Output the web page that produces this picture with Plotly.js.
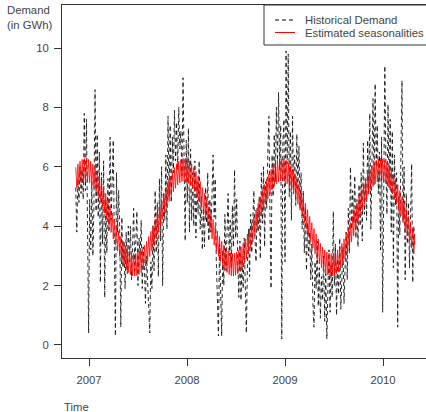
<!DOCTYPE html>
<html>
<head>
<meta charset="utf-8">
<script src="https://cdn.plot.ly/plotly-3.0.1.min.js"></script>
<style>
  html, body { margin: 0; padding: 0; overflow: hidden; background: #fff; }
  #chart { width: 430px; height: 412px; }
</style>
</head>
<body>
<div id="chart"></div>
<script>
// Time index: regular series starting mid-Nov 2006, one observation every 4 days (decimal years)
const seriesStart = 2006.864;
const stepYears = 4 / 365.25;

// Historical demand (GWh)
const historicalDemand = [
  5.3, 3.8, 5.6, 4.8, 6.0, 5.1, 5.9, 4.9, 7.8, 5.2,
  7.6, 4.4, 0.4, 4.9, 3.2, 5.5, 3.0, 4.8, 8.6, 4.5,
  7.1, 4.3, 6.5, 2.1, 5.8, 3.4, 6.2, 1.6, 4.9, 3.1,
  5.6, 3.8, 7.0, 4.2, 5.2, 6.9, 3.3, 0.3, 5.8, 3.8,
  5.2, 3.9, 0.6, 4.3, 2.6, 3.5, 1.9, 3.8, 2.4, 4.0,
  2.8, 4.0, 2.2, 3.5, 4.6, 2.5, 3.9, 4.5, 2.0, 3.6,
  2.9, 4.2, 1.9, 3.3, 2.6, 1.4, 3.0, 2.2, 1.5, 0.4,
  2.8, 1.9, 4.0, 2.5, 5.2, 3.1, 4.8, 2.3, 5.6, 3.5,
  6.0, 2.0, 5.1, 4.2, 6.4, 3.9, 7.7, 5.0, 7.4, 4.8,
  7.0, 5.8, 7.9, 6.2, 7.5, 5.9, 8.0, 6.6, 7.2, 5.7,
  9.0, 5.8, 3.5, 6.9, 4.8, 7.3, 3.8, 6.6, 4.2, 5.8,
  4.0, 6.2, 3.6, 5.5, 4.4, 6.2, 3.9, 5.0, 3.2, 4.6,
  3.3, 5.3, 4.1, 5.8, 3.5, 4.9, 3.8, 5.1, 6.4, 4.3,
  5.6, 2.8, 1.5, 0.3, 3.4, 1.2, 0.3, 3.2, 2.0, 4.4,
  2.5, 3.8, 5.1, 3.0, 4.2, 2.6, 4.7, 3.3, 5.9, 3.6,
  4.9, 2.8, 1.6, 3.5, 1.5, 2.9, 1.9, 3.6, 2.2, 0.4,
  2.7, 3.9, 2.3, 4.4, 3.1, 4.0, 5.2, 3.6, 2.8, 4.6,
  3.8, 5.0, 2.9, 5.8, 4.1, 6.0, 3.3, 5.5, 4.6, 6.5,
  7.7, 4.4, 1.9, 6.4, 5.0, 7.1, 5.5, 8.0, 6.2, 8.5,
  5.9, 7.4, 0.2, 6.8, 7.6, 2.8, 9.9, 6.1, 9.8, 5.0,
  7.2, 4.2, 7.7, 5.3, 6.4, 4.7, 7.1, 5.2, 6.7, 4.6,
  5.8, 3.9, 5.2, 3.1, 4.6, 2.5, 4.1, 3.0, 3.8, 2.2,
  3.4, 1.4, 0.6, 2.8, 1.9, 3.5, 1.3, 2.6, 0.9, 2.3,
  1.5, 3.0, 0.8, 2.4, 0.2, 1.9, 3.2, 1.1, 2.7, 1.6,
  4.5, 2.0, 3.4, 1.0, 2.9, 1.7, 3.6, 1.2, 2.6, 3.3,
  1.4, 2.8, 3.8, 2.2, 4.6, 3.1, 6.0, 3.9, 5.2, 4.1,
  5.7, 3.6, 4.9, 3.3, 5.4, 4.0, 5.8, 3.5, 6.8, 4.4,
  5.6, 4.2, 6.9, 5.1, 7.8, 3.9, 6.6, 8.3, 5.4, 8.8,
  6.0, 7.4, 5.1, 6.5, 3.2, 7.0, 1.1, 5.6, 9.4, 6.2,
  4.4, 8.1, 5.3, 7.6, 3.8, 7.2, 2.6, 6.4, 4.7, 5.8,
  0.6, 5.0, 3.7, 6.3, 8.9, 4.2, 6.0, 2.2, 5.1, 3.4,
  4.8, 2.6, 3.9, 6.1, 2.1, 4.0, 3.3
];

// Estimated seasonalities (annual cycle with weekly ripple)
const estimatedSeasonalities = [
  5.98, 5.28, 6.10, 5.39, 6.19, 5.46, 6.25, 5.50, 6.28, 5.52,
  6.28, 5.50, 6.25, 5.46, 6.19, 5.39, 6.10, 5.28, 5.98, 5.16,
  5.84, 5.00, 5.68, 4.83, 5.50, 4.64, 5.30, 4.44, 5.10, 4.23,
  4.88, 4.01, 4.66, 3.79, 4.44, 3.57, 4.23, 3.36, 4.02, 3.16,
  3.83, 2.98, 3.65, 2.81, 3.49, 2.66, 3.36, 2.54, 3.24, 2.44,
  3.16, 2.37, 3.11, 2.33, 3.08, 2.32, 3.08, 2.33, 3.11, 2.37,
  3.16, 2.44, 3.24, 2.54, 3.36, 2.66, 3.49, 2.81, 3.65, 2.98,
  3.83, 3.16, 4.02, 3.36, 4.23, 3.57, 4.44, 3.79, 4.66, 4.01,
  4.88, 4.23, 5.10, 4.44, 5.30, 4.64, 5.50, 4.83, 5.68, 5.00,
  5.84, 5.16, 5.98, 5.28, 6.10, 5.39, 6.19, 5.46, 6.25, 5.50,
  6.28, 5.52, 6.28, 5.50, 6.25, 5.46, 6.19, 5.39, 6.10, 5.28,
  5.98, 5.16, 5.84, 5.00, 5.68, 4.83, 5.50, 4.64, 5.30, 4.44,
  5.10, 4.23, 4.88, 4.01, 4.66, 3.79, 4.44, 3.57, 4.23, 3.36,
  4.02, 3.16, 3.83, 2.98, 3.65, 2.81, 3.49, 2.66, 3.36, 2.54,
  3.24, 2.44, 3.16, 2.37, 3.11, 2.33, 3.08, 2.32, 3.09, 2.35,
  3.13, 2.40, 3.20, 2.48, 3.30, 2.60, 3.42, 2.73, 3.57, 2.89,
  3.74, 3.07, 3.92, 3.26, 4.12, 3.47, 4.33, 3.68, 4.55, 3.90,
  4.77, 4.12, 4.99, 4.34, 5.20, 4.54, 5.40, 4.74, 5.59, 4.92,
  5.76, 5.08, 5.92, 5.22, 6.04, 5.34, 6.15, 5.43, 6.22, 5.49,
  6.26, 5.52, 6.28, 5.52, 6.26, 5.49, 6.22, 5.43, 6.15, 5.34,
  6.04, 5.22, 5.92, 5.08, 5.76, 4.92, 5.59, 4.74, 5.40, 4.54,
  5.20, 4.34, 4.99, 4.12, 4.77, 3.90, 4.55, 3.68, 4.33, 3.47,
  4.12, 3.26, 3.92, 3.07, 3.74, 2.89, 3.57, 2.73, 3.42, 2.60,
  3.30, 2.48, 3.20, 2.40, 3.13, 2.35, 3.09, 2.32, 3.08, 2.32,
  3.09, 2.35, 3.13, 2.40, 3.20, 2.48, 3.30, 2.60, 3.42, 2.73,
  3.57, 2.89, 3.74, 3.07, 3.92, 3.26, 4.12, 3.47, 4.33, 3.68,
  4.55, 3.90, 4.77, 4.12, 4.99, 4.34, 5.20, 4.54, 5.40, 4.74,
  5.59, 4.92, 5.76, 5.08, 5.92, 5.22, 6.04, 5.34, 6.15, 5.43,
  6.22, 5.49, 6.26, 5.52, 6.28, 5.52, 6.26, 5.49, 6.22, 5.43,
  6.15, 5.34, 6.04, 5.22, 5.92, 5.08, 5.76, 4.92, 5.59, 4.74,
  5.40, 4.54, 5.20, 4.34, 4.99, 4.12, 4.77, 3.90, 4.55, 3.68,
  4.33, 3.47, 4.12, 3.26, 3.92, 3.07, 3.74
];

// Axis ticks and labels
const yearTicks = [2007, 2008, 2009, 2010];
const yearLabels = ["2007", "2008", "2009", "2010"];
const demandTicks = [0, 2, 4, 6, 8, 10];
const legendLabels = ["Historical Demand", "Estimated seasonalities"];
const yTitleText = "Demand<br>(in GWh)";
const xTitleText = "Time";

const timeIndex = historicalDemand.map((_, i) => seriesStart + i * stepYears);

const FONT = "Liberation Sans, Arial, sans-serif";
const TXT = "#444444";
const FS = 11.3;

// geometry helpers (pixel -> paper)
const L = 62, R = 1, T = 5, B = 54, W = 430, H = 412;
const PW = W - L - R, PH = H - T - B;
const px = x => (x - L) / PW;
const py = y => (H - B - y) / PH;

const traces = [
  {
    x: timeIndex, y: historicalDemand, type: "scatter", mode: "lines",
    name: legendLabels[0],
    line: { color: "#111111", width: 0.9, dash: "4px,3px" },
    showlegend: false, hoverinfo: "skip"
  },
  {
    x: timeIndex, y: estimatedSeasonalities, type: "scatter", mode: "lines",
    name: legendLabels[1],
    line: { color: "#ff0000", width: 0.8 },
    showlegend: false, hoverinfo: "skip"
  }
];

const layout = {
  width: W, height: H,
  margin: { l: L, r: R, t: T, b: B, pad: 0 },
  paper_bgcolor: "#ffffff", plot_bgcolor: "#ffffff",
  font: { family: FONT, size: FS, color: TXT },
  showlegend: false,
  xaxis: {
    range: [2006.724, 2006.724 + PW / 98],
    tickmode: "array", tickvals: yearTicks, ticktext: yearLabels,
    showgrid: false, zeroline: false,
    showline: true, mirror: true, linecolor: "#333333", linewidth: 1,
    ticks: "outside", ticklen: 7, tickcolor: "#333333", tickwidth: 1,
    tickfont: { family: FONT, size: FS, color: TXT },
    ticklabelstandoff: 4
  },
  yaxis: {
    range: [-0.44, 11.45],
    tickmode: "array", tickvals: demandTicks, ticktext: demandTicks.map(String),
    showgrid: false, zeroline: false,
    showline: true, mirror: true, linecolor: "#333333", linewidth: 1,
    ticks: "outside", ticklen: 7, tickcolor: "#333333", tickwidth: 1,
    tickfont: { family: FONT, size: FS, color: TXT },
    ticklabelstandoff: 3
  },
  shapes: [
    { type: "rect", xref: "paper", yref: "paper",
      x0: px(264), x1: px(440), y0: py(45), y1: py(5),
      line: { color: "#333333", width: 1 }, fillcolor: "#ffffff", layer: "above" },
    { type: "line", xref: "paper", yref: "paper",
      x0: px(275), x1: px(295), y0: py(20), y1: py(20),
      line: { color: "#000000", width: 1, dash: "4px,3px" } },
    { type: "line", xref: "paper", yref: "paper",
      x0: px(275), x1: px(295), y0: py(32.5), y1: py(32.5),
      line: { color: "#ff0000", width: 1 } }
  ],
  annotations: [
    { text: legendLabels[0], xref: "paper", yref: "paper", x: px(303), y: py(20),
      xanchor: "left", yanchor: "middle", showarrow: false,
      font: { family: FONT, size: FS, color: TXT } },
    { text: legendLabels[1], xref: "paper", yref: "paper", x: px(303), y: py(32.5),
      xanchor: "left", yanchor: "middle", showarrow: false,
      font: { family: FONT, size: FS, color: TXT } },
    { text: yTitleText, xref: "paper", yref: "paper", x: px(5), y: py(17.5),
      xanchor: "left", yanchor: "middle", align: "left", showarrow: false,
      font: { family: FONT, size: FS, color: TXT } },
    { text: xTitleText, xref: "paper", yref: "paper", x: px(62), y: py(407),
      xanchor: "left", yanchor: "middle", showarrow: false,
      font: { family: FONT, size: FS, color: TXT } }
  ]
};

Plotly.newPlot("chart", traces, layout, { staticPlot: true, displayModeBar: false });
</script>
</body>
</html>
